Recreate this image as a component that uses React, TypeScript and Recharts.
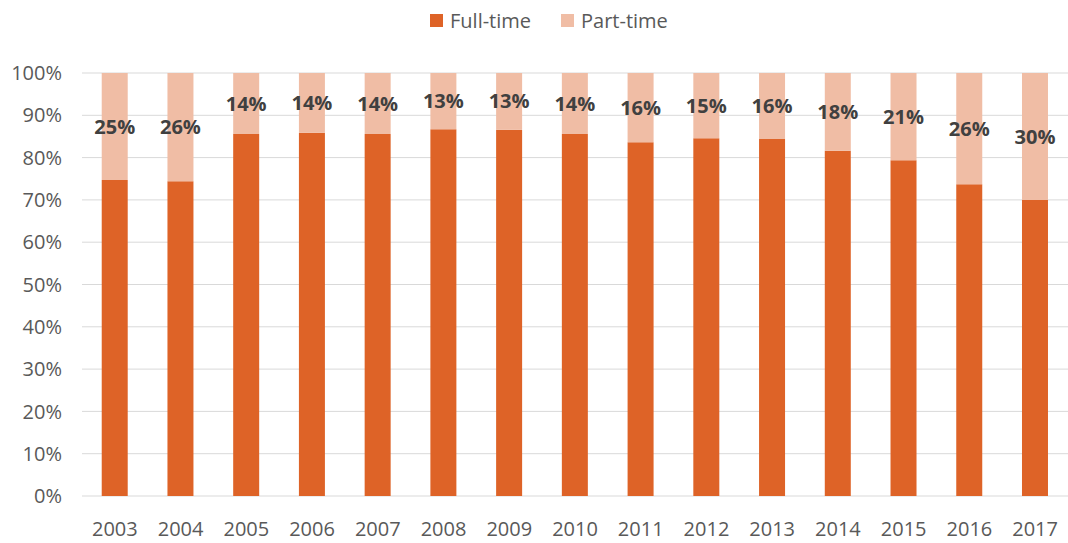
import React from 'react';
import { BarChart, Bar, XAxis, YAxis, CartesianGrid, Legend, LabelList } from 'recharts';

const years = ['2003', '2004', '2005', '2006', '2007', '2008', '2009', '2010', '2011', '2012', '2013', '2014', '2015', '2016', '2017'];
const fullTime = [74.7, 74.4, 85.6, 85.9, 85.6, 86.7, 86.6, 85.6, 83.6, 84.6, 84.4, 81.6, 79.4, 73.7, 70.0];
const partTime = [25.3, 25.6, 14.4, 14.1, 14.4, 13.3, 13.4, 14.4, 16.4, 15.4, 15.6, 18.4, 20.6, 26.3, 30.0];
const yTicks = [0, 10, 20, 30, 40, 50, 60, 70, 80, 90, 100];

const FULL_COLOR = '#DE6327';
const PART_COLOR = '#F0BDA5';
const TEXT_COLOR = '#595959';
const FONT = '"Open Sans", sans-serif';

const data = years.map((year, i) => ({
  year,
  full: fullTime[i],
  part: partTime[i],
}));

const legendItems = [
  { label: 'Full-time', color: FULL_COLOR },
  { label: 'Part-time', color: PART_COLOR },
];

const ChartLegend = () => (
  <div style={{ display: 'flex', alignItems: 'center', height: 28, fontFamily: FONT, fontSize: 20, color: TEXT_COLOR }}>
    {legendItems.map((item, i) => (
      <div key={item.label} style={{ display: 'flex', alignItems: 'center', marginLeft: i > 0 ? 30 : 0 }}>
        <span style={{ display: 'inline-block', width: 13, height: 13, background: item.color, marginRight: 7 }} />
        <span>{item.label}</span>
      </div>
    ))}
  </div>
);

const App: React.FC = () => {
  return (
    <div style={{ position: 'fixed', top: 0, left: 0, width: 1068, height: 543, background: '#fff' }}>
      <BarChart
        width={1068}
        height={543}
        data={data}
        margin={{ top: 45, right: 0, bottom: 0, left: 0 }}
        barCategoryGap="30%"
      >
        <CartesianGrid vertical={false} stroke="#D9D9D9" />
        <XAxis
          dataKey="year"
          height={47}
          axisLine={false}
          tickLine={false}
          tickMargin={20}
          tick={{ fill: TEXT_COLOR, fontSize: 20, fontFamily: FONT }}
        />
        <YAxis
          width={82}
          domain={[0, 100]}
          ticks={yTicks}
          axisLine={false}
          tickLine={false}
          tickMargin={14}
          tickFormatter={(v: number) => `${v}%`}
          tick={{ fill: TEXT_COLOR, fontSize: 20, fontFamily: FONT }}
        />
        <Legend
          verticalAlign="top"
          content={<ChartLegend />}
          wrapperStyle={{ top: 6, left: 430, width: 'auto' }}
        />
        <Bar dataKey="full" name="Full-time" stackId="a" fill={FULL_COLOR} isAnimationActive={false} />
        <Bar dataKey="part" name="Part-time" stackId="a" fill={PART_COLOR} isAnimationActive={false}>
          <LabelList
            dataKey="part"
            position="center"
            formatter={(v: number) => `${Math.round(v)}%`}
            style={{ fill: '#404040', fontSize: 20, fontWeight: 700, fontFamily: FONT }}
          />
        </Bar>
      </BarChart>
    </div>
  );
};

export default App;
